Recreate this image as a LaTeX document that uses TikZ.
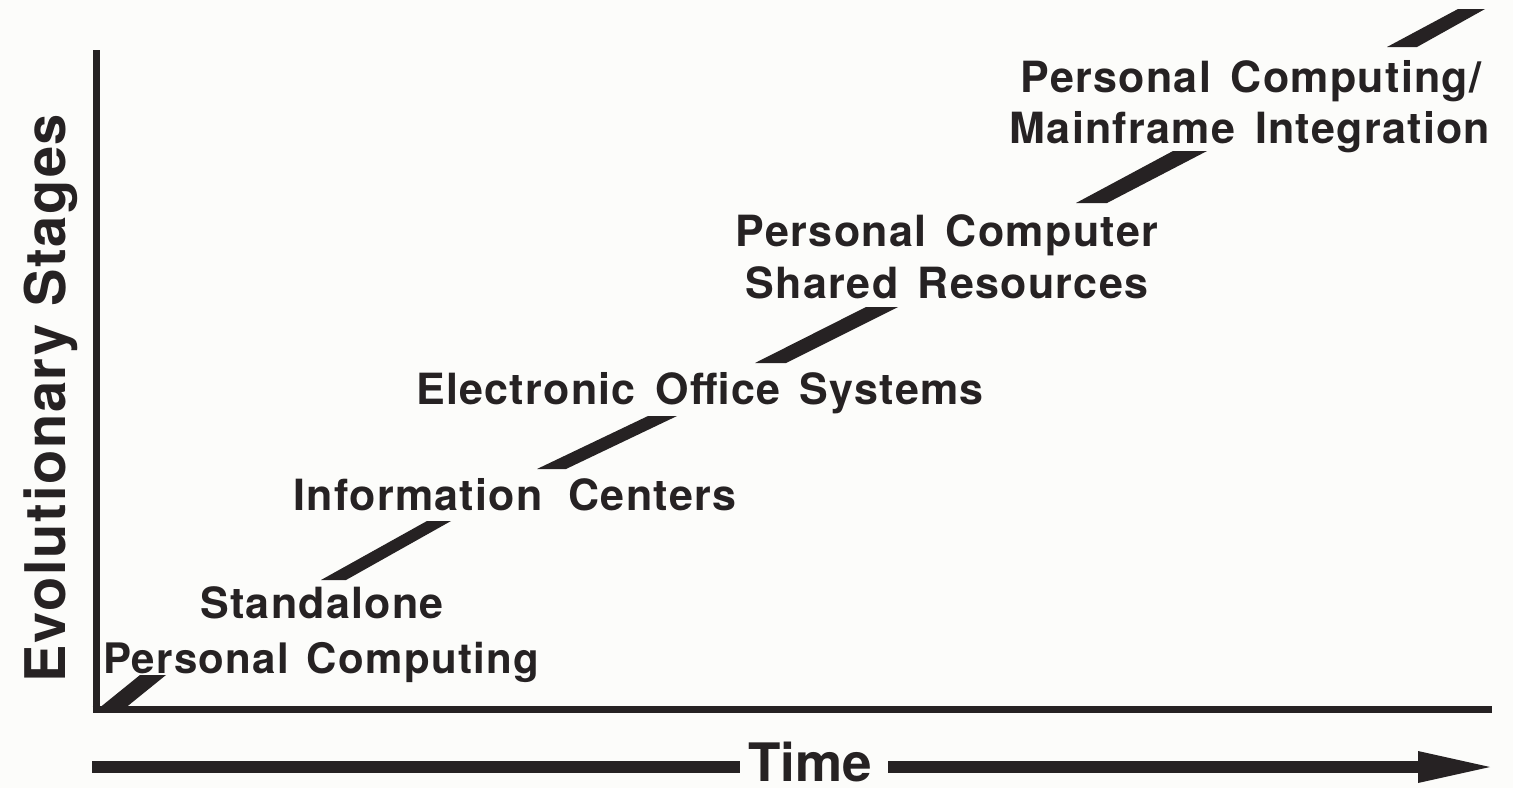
\documentclass[tikz,border=0pt]{standalone}
\usepackage{fontspec}
\setmainfont{TeX Gyre Heros}[LetterSpace=3]
\newfontfamily\timefont{TeX Gyre Heros}
\begin{document}
\begin{tikzpicture}[x=1pt,y=-1pt,
  ink/.style={fill=inkc,draw=none},
  stage/.style={font=\bfseries\fontsize{43}{48}\selectfont,text=inkc,inner sep=0pt,anchor=base,align=center},
  axis/.style={draw=inkc,line width=#1,line cap=butt},
]
\definecolor{inkc}{HTML}{262223}
\definecolor{paper}{HTML}{FCFCFA}
\fill[paper] (0,0) rectangle (1513,788);
\useasboundingbox (0,0) rectangle (1513,788);

% axes
\coordinate (origin) at (96,709);
\coordinate (ytop) at (96,50);
\coordinate (xend) at (1492,709);
\draw[axis=7pt] (ytop) -- (96,712.5);
\draw[axis=7pt] (92.5,709) -- (xend);

% stage labels
\node[stage,font=\bfseries\fontsize{42}{48}\selectfont] (s1b) at (321,673) {Personal\hspace{0.12em} Computing};
\node[stage] (s1a) at (322,618) {Standalone};
\node[stage] (s2) at (515,510) {Information\hspace{0.3em} Centers};
\node[stage] (s3) at (700,404) {Electronic\hspace{0.15em} Office\hspace{0.15em} Systems};
\node[stage] (s4b) at (947,298) {Shared\hspace{0.15em} Resources};
\node[stage] (s4a) at (947,246) {Personal\hspace{0.15em} Computer};
\node[stage] (s5b) at (1250,143) {Mainframe\hspace{0.15em} Integration};
\node[stage] (s5a) at (1251,92) {Personal\hspace{0.15em} Computing/};

% rising steps between the stages
\fill[ink] (98,709) -- (124,709) -- (166,675) -- (140,675) -- cycle;
\fill[ink] (321,580) -- (346,580) -- (451,521) -- (427,521) -- cycle;
\fill[ink] (537,469) -- (566,469) -- (677,416) -- (648,416) -- cycle;
\fill[ink] (755,363) -- (786,363) -- (898,307) -- (866,307) -- cycle;
\fill[ink] (1076,203) -- (1107,203) -- (1207,151) -- (1173,151) -- cycle;
\fill[ink] (1387,47) -- (1417,47) -- (1485,9) -- (1458,9) -- cycle;

% axis titles
\node[font=\bfseries\fontsize{56}{60}\selectfont,text=inkc,rotate=90,inner sep=0pt] (ylab) at (51,398) {Evolutionary Stages};
\node[font=\timefont\bfseries\fontsize{53}{60}\selectfont,text=inkc,inner sep=0pt] (tlab) at (810,762) {Time};

% time arrow
\coordinate (tstart) at (92,767);
\coordinate (ttip) at (1490,767);
\draw[axis=12pt] (tstart) -- ([xshift=-8pt]tlab.west |- tstart);
\draw[axis=12pt] ([xshift=16pt]tlab.east |- tstart) -- (1422,767);
\fill[ink] (1418,751) -- (ttip) -- (1418,783) -- cycle;
\end{tikzpicture}
\end{document}
